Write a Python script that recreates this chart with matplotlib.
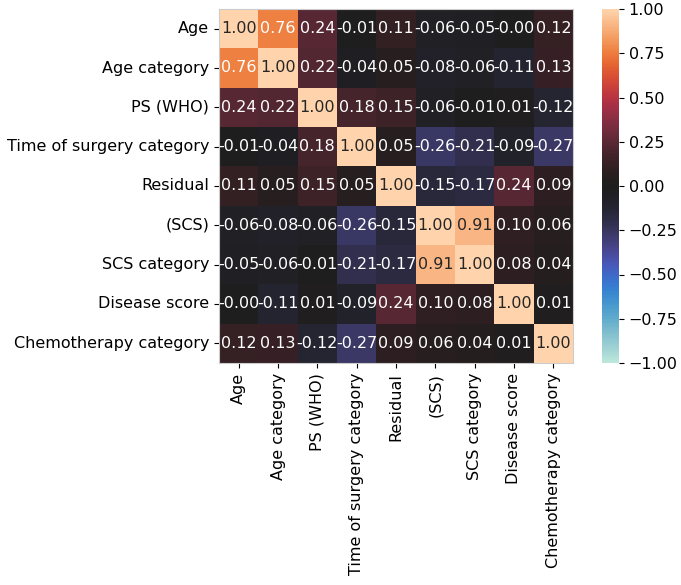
import matplotlib
matplotlib.use("Agg")
import matplotlib.pyplot as plt
import numpy as np
import pandas as pd
import seaborn as sns

# variable names
labels = ["Age", "Age category", "PS (WHO)", "Time of surgery category",
          "Residual", "(SCS)", "SCS category", "Disease score",
          "Chemotherapy category"]

# correlation matrix rows
r_age = [1.00, 0.76, 0.24, -0.01, 0.11, -0.06, -0.05, -0.001, 0.12]
r_age_cat = [0.76, 1.00, 0.22, -0.04, 0.05, -0.08, -0.06, -0.11, 0.13]
r_ps = [0.24, 0.22, 1.00, 0.18, 0.15, -0.06, -0.01, 0.01, -0.12]
r_surg = [-0.01, -0.04, 0.18, 1.00, 0.05, -0.26, -0.21, -0.09, -0.27]
r_resid = [0.11, 0.05, 0.15, 0.05, 1.00, -0.15, -0.17, 0.24, 0.09]
r_scs = [-0.06, -0.08, -0.06, -0.26, -0.15, 1.00, 0.91, 0.10, 0.06]
r_scs_cat = [-0.05, -0.06, -0.01, -0.21, -0.17, 0.91, 1.00, 0.08, 0.04]
r_disease = [-0.001, -0.11, 0.01, -0.09, 0.24, 0.10, 0.08, 1.00, 0.01]
r_chemo = [0.12, 0.13, -0.12, -0.27, 0.09, 0.06, 0.04, 0.01, 1.00]

corr = pd.DataFrame([r_age, r_age_cat, r_ps, r_surg, r_resid, r_scs,
                     r_scs_cat, r_disease, r_chemo],
                    index=labels, columns=labels)

fs = 11.5
plt.rcParams['font.size'] = fs

fig = plt.figure(figsize=(6.81, 5.85), dpi=100)
ax = fig.add_axes([219 / 681, 1 - 363 / 585, 354 / 681, 354 / 585])
cax = fig.add_axes([602 / 681, 1 - 363 / 585, 17 / 681, 354 / 585])

sns.heatmap(corr, vmin=-1, vmax=1, cmap='icefire', annot=True, fmt='.2f',
            square=True, ax=ax, cbar_ax=cax, annot_kws={'fontsize': fs})

for s in ax.spines.values():
    s.set_visible(True)
    s.set_edgecolor('#cccccc')
    s.set_linewidth(0.8)
cax.tick_params(labelsize=fs)
ax.tick_params(labelsize=fs)
plt.setp(ax.get_xticklabels(), rotation=90)
plt.setp(ax.get_yticklabels(), rotation=0)

fig.savefig('out.png', dpi=100)
